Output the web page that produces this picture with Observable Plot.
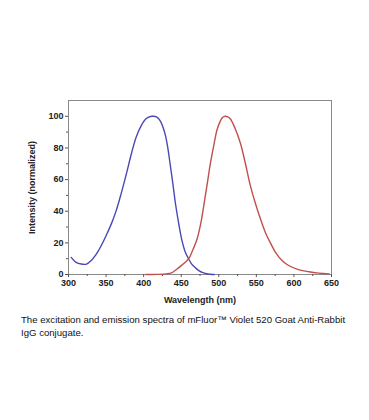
<!DOCTYPE html>
<html>
<head>
<meta charset="utf-8">
<script src="https://cdn.jsdelivr.net/npm/d3@7"></script>
<script src="https://cdn.jsdelivr.net/npm/@observablehq/plot@0.6"></script>
<style>
  html, body { margin: 0; padding: 0; background: #fff; }
  #chart svg { display: block; font-family: "Liberation Sans", Arial, sans-serif; }
  #caption { font-family: "Liberation Sans", Arial, sans-serif; font-size: 9.6px; line-height: 13px; color: #111; margin: 1px 0 0 21px; width: 336px; }
  #caption span { white-space: nowrap; }
</style>
</head>
<body>
<div id="chart"></div>
<div id="caption">The excitation and emission spectra of mFluor™ Violet 520 Goat <span>Anti-Rabbit</span> IgG conjugate.</div>
<script>
const exWavelength = [303.6,310,317,324,330,337,343.5,350,357,363.5,370,377,383.5,390,397,403.5,409,413,417,420,423,426,429,432,435.5,439,442,445.5,449,452,455.5,460,464,469,474,478,484,489,494];
const exIntensity  = [10.8,7.7,6.6,6.6,8.7,12.9,18.2,24.5,32,40.4,51,63.6,76,86.8,94.3,98.6,99.9,100,99.6,98.5,96.3,92.8,88,80.5,69,57,46,35.5,26,19.5,14,9.7,6.6,4.2,2.3,1.3,0.5,0.2,0];
const emWavelength = [403,420,430,437,444,450,455,460,465,471,475.5,480,484.5,489,493.5,497.7,502,505,508.5,512,515.5,522,529,535.5,542,549,555.5,562,569,575.5,584.5,593,606,620,633,647];
const emIntensity  = [0,0.1,0.4,1,3.3,5.6,7.6,10,15,22.3,31,43.4,57,70.7,82,91.5,97,99.2,100,99.6,98.3,92,82.7,70,56.2,44.6,35.1,26.6,19.7,14,8.7,5.7,3.1,1.7,0.9,0.4];
const xTicks = [300,350,400,450,500,550,600,650];
const xMinorTicks = [325,375,425,475,525,575,625];
const yTicks = [0,20,40,60,80,100];
const yMinorTicks = [10,30,50,70,90];

const ex = exWavelength.map((w, i) => ({w, v: exIntensity[i]}));
const em = emWavelength.map((w, i) => ({w, v: emIntensity[i]}));

const chart = Plot.plot({
  width: 369,
  height: 312,
  marginLeft: 68,
  marginRight: 38,
  marginTop: 100,
  marginBottom: 38,
  style: {fontSize: "9px", fontWeight: "bold", color: "#222", background: "#fff"},
  x: {domain: [300, 650]},
  y: {domain: [0, 110]},
  marks: [
    Plot.frame({stroke: "#8a8a8a", strokeWidth: 1}),
    Plot.axisX(xMinorTicks, {tickSize: 2, tickFormat: () => "", label: null, stroke: "#555"}),
    Plot.axisY(yMinorTicks, {tickSize: 2, tickFormat: () => "", label: null, stroke: "#555"}),
    Plot.axisX(xTicks, {tickSize: 3, tickPadding: 2, stroke: "#555", label: "Wavelength (nm)", labelAnchor: "center", labelArrow: "none", labelOffset: 28, fontSize: 9, fontWeight: "bold"}),
    Plot.axisY(yTicks, {tickSize: 3, tickPadding: 2, stroke: "#555", label: "Intensity (normalized)", labelAnchor: "center", labelArrow: "none", labelOffset: 40, fontSize: 9, fontWeight: "bold"}),
    Plot.line(ex, {x: "w", y: "v", stroke: "#4b48b5", strokeWidth: 1.4, curve: "catmull-rom"}),
    Plot.line(em, {x: "w", y: "v", stroke: "#c0504d", strokeWidth: 1.4, curve: "catmull-rom"})
  ]
});
document.getElementById("chart").appendChild(chart);
</script>
</body>
</html>
